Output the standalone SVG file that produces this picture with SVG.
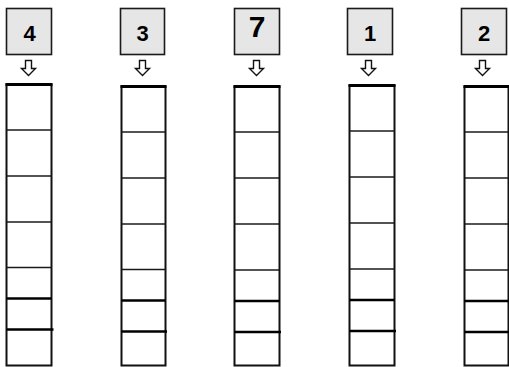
<svg xmlns="http://www.w3.org/2000/svg" width="509" height="367" viewBox="0 0 509 367">
<style>
.box{fill:#e6e6e6;stroke:#1a1a1a;stroke-width:1.6}
.num{font-family:"Liberation Sans",Arial,sans-serif;font-weight:bold;font-size:22px;fill:#000;text-anchor:middle}
.arr{fill:#fff;stroke:#111;stroke-width:1.4;stroke-linejoin:miter}
.col{fill:#fff;stroke:#111;stroke-width:2}
.top{stroke:#000;stroke-width:3}
.thin{stroke:#1a1a1a;stroke-width:1.5}
.thick{stroke:#000;stroke-width:2.4}
</style>
<defs>
<path id="arrow" d="M-3,-8 H3 V0 H7 L0,7 L-7,0 H-3 Z"/>
</defs>
<rect width="509" height="367" fill="#fff"/>
<g id="node-4">
<rect class="box" x="6.5" y="8.5" width="45" height="46"/>
<text class="num" x="29.5" y="40.5">4</text>
</g>
<g id="node-3">
<rect class="box" x="120.5" y="8.5" width="44" height="46"/>
<text class="num" x="142.5" y="40.5">3</text>
</g>
<g id="node-7">
<rect class="box" x="234.5" y="8.5" width="45" height="46"/>
<text class="num" x="257" y="37" style="font-size:30px">7</text>
</g>
<g id="node-1">
<rect class="box" x="347.5" y="8.5" width="45" height="46"/>
<text class="num" x="370" y="40.5">1</text>
</g>
<g id="node-2">
<rect class="box" x="461.5" y="8.5" width="45" height="46"/>
<text class="num" x="484" y="40.5">2</text>
</g>
<g id="connectors">
<use href="#arrow" class="arr" x="28.5" y="68.5"/>
<use href="#arrow" class="arr" x="142.5" y="68.5"/>
<use href="#arrow" class="arr" x="256.5" y="68.5"/>
<use href="#arrow" class="arr" x="368.5" y="68.5"/>
<use href="#arrow" class="arr" x="482.5" y="68.5"/>
</g>
<g id="column-1">
<rect class="col" x="6.5" y="84.5" width="45" height="281"/>
<line class="top" x1="5.5" y1="84.5" x2="52.5" y2="84.5"/>
<line class="thin" x1="6.5" y1="130" x2="51.5" y2="130"/>
<line class="thin" x1="6.5" y1="176" x2="51.5" y2="176"/>
<line class="thin" x1="6.5" y1="222" x2="51.5" y2="222"/>
<line class="thin" x1="6.5" y1="267.5" x2="51.5" y2="267.5"/>
<line class="thick" x1="6.5" y1="298.5" x2="51.5" y2="298.5"/>
<line class="thick" x1="6.5" y1="329.5" x2="53.5" y2="329.5"/>
</g>
<g id="column-2">
<rect class="col" x="121.5" y="86.5" width="44" height="279"/>
<line class="top" x1="120.5" y1="86.5" x2="166.5" y2="86.5"/>
<line class="thin" x1="121.5" y1="132" x2="165.5" y2="132"/>
<line class="thin" x1="121.5" y1="178" x2="165.5" y2="178"/>
<line class="thin" x1="121.5" y1="224" x2="165.5" y2="224"/>
<line class="thin" x1="121.5" y1="269.5" x2="165.5" y2="269.5"/>
<line class="thick" x1="121.5" y1="300.5" x2="165.5" y2="300.5"/>
<line class="thick" x1="121.5" y1="331.5" x2="167" y2="331.5"/>
</g>
<g id="column-3">
<rect class="col" x="234.5" y="86.5" width="45" height="279"/>
<line class="top" x1="233.5" y1="86.5" x2="280.5" y2="86.5"/>
<line class="thin" x1="234.5" y1="132" x2="279.5" y2="132"/>
<line class="thin" x1="234.5" y1="178" x2="279.5" y2="178"/>
<line class="thin" x1="234.5" y1="224" x2="279.5" y2="224"/>
<line class="thin" x1="234.5" y1="270" x2="279.5" y2="270"/>
<line class="thick" x1="234.5" y1="301" x2="279.5" y2="301"/>
<line class="thick" x1="234.5" y1="332" x2="281" y2="332"/>
</g>
<g id="column-4">
<rect class="col" x="349.5" y="85.5" width="45" height="280"/>
<line class="top" x1="348.5" y1="85.5" x2="395.5" y2="85.5"/>
<line class="thin" x1="349.5" y1="131" x2="394.5" y2="131"/>
<line class="thin" x1="349.5" y1="177" x2="394.5" y2="177"/>
<line class="thin" x1="349.5" y1="223" x2="394.5" y2="223"/>
<line class="thin" x1="349.5" y1="269" x2="394.5" y2="269"/>
<line class="thick" x1="349.5" y1="300" x2="394.5" y2="300"/>
<line class="thick" x1="349.5" y1="331" x2="396" y2="331"/>
</g>
<g id="column-5">
<rect class="col" x="464.5" y="86.5" width="44" height="279"/>
<line class="top" x1="463.5" y1="86.5" x2="509" y2="86.5"/>
<line class="thin" x1="464.5" y1="132" x2="508.5" y2="132"/>
<line class="thin" x1="464.5" y1="178" x2="508.5" y2="178"/>
<line class="thin" x1="464.5" y1="224" x2="508.5" y2="224"/>
<line class="thin" x1="464.5" y1="270" x2="508.5" y2="270"/>
<line class="thick" x1="464.5" y1="301" x2="508.5" y2="301"/>
<line class="thick" x1="464.5" y1="332" x2="508.5" y2="332"/>
</g>
</svg>
